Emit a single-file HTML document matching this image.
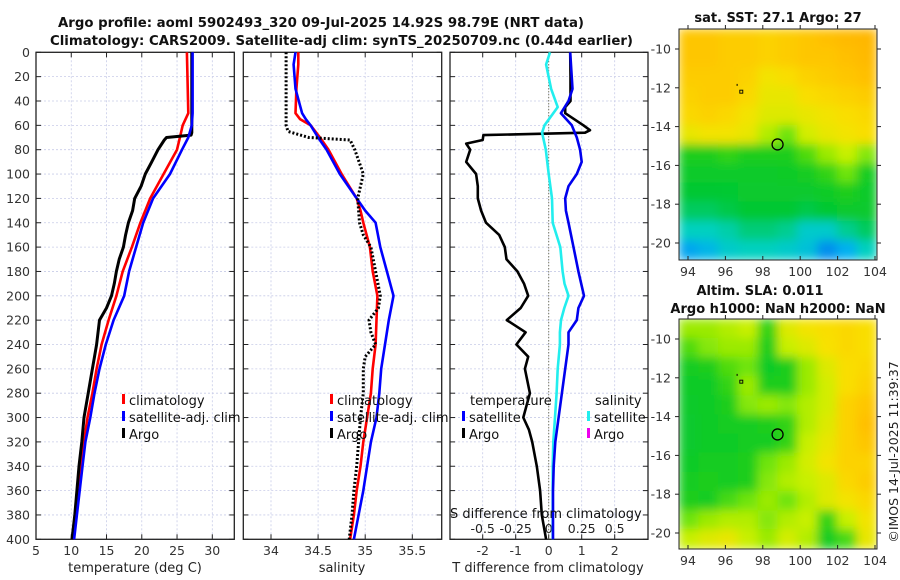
<!DOCTYPE html>
<html><head><meta charset="utf-8">
<style>
html,body{margin:0;padding:0;background:#fff;}
svg{display:block;font-family:"DejaVu Sans","Liberation Sans",sans-serif;}
</style></head>
<body>
<svg id="fig" width="900" height="580" xmlns="http://www.w3.org/2000/svg">
<defs>
<filter id="blur" x="-5%" y="-5%" width="110%" height="110%"><feGaussianBlur stdDeviation="5"/></filter>
<clipPath id="clipTop"><rect x="679" y="29" width="198" height="231"/></clipPath>
<clipPath id="clipBot"><rect x="679" y="319" width="198" height="230"/></clipPath>
</defs>
<g id="root"></g>
</svg>
<script>
// ---- data ----
const depthsT = [0,50,60,70,80,100,120,140,160,180,200,220,240,260,280,300,320,340,360,380,400];
const climT   = [26.4,26.6,25.8,25.4,25.0,23.1,21.2,19.8,18.6,17.3,16.4,15.3,14.3,13.6,13.0,12.3,11.8,11.4,11.0,10.6,10.3];
const satT    = [27.2,27.2,27.1,26.6,25.7,24.0,21.6,20.2,19.2,18.2,17.5,16.0,14.9,14.0,13.3,12.7,12.0,11.6,11.2,10.8,10.4];
const argoDepthT = [0,40,66,68,70,72,80,90,100,110,120,130,140,150,160,170,180,190,200,210,220,240,250,260,280,290,300,320,340,360,380,400];
const argoT      = [27.1,27.1,27.1,27.0,23.5,23.2,22.3,21.4,20.5,19.9,19.0,18.7,18.1,17.7,17.4,16.8,16.4,16.1,15.7,15.0,14.0,13.6,13.3,13.0,12.4,12.1,11.8,11.5,11.1,10.8,10.5,10.1];

const depthsS = [0,10,30,50,55,60,70,80,100,120,130,140,160,180,200,220,240,260,280,300,320,340,360,380,400];
const climS   = [34.29,34.29,34.27,34.26,34.31,34.42,34.52,34.61,34.75,34.91,34.95,34.98,35.05,35.08,35.13,35.12,35.11,35.08,35.06,35.02,34.98,34.95,34.91,34.88,34.84];
const satS    = [34.26,34.24,34.26,34.33,34.37,34.42,34.50,34.59,34.73,34.91,35.00,35.11,35.16,35.23,35.30,35.25,35.21,35.17,35.15,35.12,35.06,35.02,34.98,34.93,34.88];
const argoDepthS = [0,60,65,70,72,80,100,110,120,140,150,160,180,200,210,220,230,240,250,260,280,300,320,340,360,380,400];
const argoS      = [34.16,34.16,34.18,34.40,34.84,34.89,34.98,34.95,34.92,34.94,34.98,35.06,35.11,35.16,35.14,35.04,35.06,35.11,35.00,34.98,34.98,34.95,34.93,34.91,34.88,34.86,34.83];

const dDepth = [0,20,40,45,50,60,64,66,68,72,75,80,90,100,110,120,130,140,150,160,170,180,190,200,210,220,230,240,250,260,280,300,310,320,340,360,380,400];
const argoDT = [0.65,0.66,0.66,0.5,0.5,1.05,1.25,1.1,-1.98,-2.0,-2.5,-2.38,-2.5,-2.2,-2.15,-2.15,-2.05,-1.9,-1.5,-1.33,-1.28,-0.95,-0.75,-0.62,-0.85,-1.27,-0.7,-0.98,-0.62,-0.72,-0.57,-0.77,-0.6,-0.5,-0.36,-0.26,-0.21,-0.08];
const satDDepth = [0,30,40,50,60,70,80,90,100,110,120,130,140,160,180,200,210,220,230,240,260,280,300,320,340,360,380,400];
const satDT     = [0.65,0.72,0.6,0.37,0.7,0.85,0.95,1.0,0.85,0.6,0.5,0.52,0.6,0.75,0.9,1.07,0.9,0.85,0.6,0.6,0.5,0.4,0.3,0.2,0.15,0.13,0.13,0.13];
const satDSDepth = [0,10,30,45,60,66,80,100,120,140,160,180,190,200,210,220,230,240,260,280,300,320,340,360,400];
const satDS      = [0.01,-0.02,0.018,0.068,-0.032,-0.05,-0.022,0.0,0.025,0.03,0.088,0.105,0.12,0.15,0.118,0.093,0.085,0.085,0.068,0.06,0.048,0.035,0.03,0.03,0.03];

const tTicks = [5,10,15,20,25,30];
const sTicks = [34,34.5,35,35.5];
const dtTicks = [-2,-1,0,1,2];
const dsTickLabels = ['-0.5','-0.25','0','0.25','0.5'];
const dsTicks = [-0.5,-0.25,0,0.25,0.5];
const depthTicks = [0,20,40,60,80,100,120,140,160,180,200,220,240,260,280,300,320,340,360,380,400];
const lonTicks = [94,96,98,100,102,104];
const latTicks = [-10,-12,-14,-16,-18,-20];

const sstGrid = [
[0.84,0.84,0.82,0.82,0.80,0.82,0.84,0.86,0.88,0.89],
[0.84,0.84,0.82,0.82,0.80,0.82,0.84,0.84,0.86,0.88],
[0.82,0.82,0.82,0.80,0.74,0.76,0.80,0.82,0.84,0.86],
[0.80,0.82,0.82,0.78,0.72,0.72,0.76,0.78,0.80,0.82],
[0.78,0.80,0.78,0.74,0.70,0.70,0.72,0.74,0.76,0.78],
[0.72,0.74,0.74,0.72,0.64,0.58,0.68,0.72,0.74,0.76],
[0.50,0.50,0.52,0.50,0.50,0.50,0.55,0.62,0.66,0.60],
[0.45,0.45,0.45,0.45,0.45,0.46,0.48,0.52,0.58,0.48],
[0.42,0.42,0.43,0.44,0.44,0.44,0.44,0.46,0.50,0.45],
[0.38,0.38,0.40,0.42,0.42,0.42,0.40,0.42,0.44,0.44],
[0.30,0.30,0.32,0.36,0.36,0.34,0.28,0.28,0.34,0.38],
[0.18,0.22,0.28,0.30,0.30,0.28,0.25,0.14,0.20,0.30]];
const slaGrid = [
[0.62,0.62,0.64,0.66,0.52,0.70,0.74,0.76,0.78,0.76],
[0.55,0.60,0.62,0.62,0.50,0.66,0.70,0.75,0.78,0.76],
[0.48,0.50,0.55,0.58,0.46,0.50,0.62,0.70,0.76,0.78],
[0.46,0.46,0.52,0.62,0.50,0.50,0.62,0.68,0.76,0.80],
[0.45,0.46,0.50,0.60,0.62,0.60,0.64,0.68,0.80,0.84],
[0.44,0.46,0.48,0.48,0.50,0.52,0.64,0.70,0.80,0.86],
[0.44,0.46,0.46,0.48,0.48,0.52,0.66,0.72,0.80,0.84],
[0.46,0.48,0.48,0.50,0.58,0.62,0.68,0.74,0.80,0.80],
[0.48,0.50,0.48,0.50,0.60,0.64,0.66,0.70,0.78,0.82],
[0.50,0.48,0.54,0.58,0.62,0.58,0.64,0.70,0.74,0.78],
[0.58,0.62,0.64,0.64,0.60,0.64,0.66,0.52,0.66,0.74],
[0.66,0.70,0.72,0.66,0.62,0.68,0.64,0.48,0.54,0.72]];
const argoLon = 98.79, argoLat = -14.92;

// ---- helpers ----
const NS='http://www.w3.org/2000/svg';
const root=document.getElementById('root');
function el(tag,attrs,parent){const e=document.createElementNS(NS,tag);for(const k in attrs)e.setAttribute(k,attrs[k]);(parent||root).appendChild(e);return e;}
function txt(s,attrs,parent){const e=el('text',attrs,parent);e.textContent=s;return e;}
const Y0=52.3, Y1=539.3;
const yD = d => Y0 + d*(Y1-Y0)/400;
function lin(d0,d1,p0,p1){return v=>p0+(v-d0)*(p1-p0)/(d1-d0);}
const xT = lin(5,30,36,212.3);
const xS = lin(34,35.5,271,412.3);
const xDT = lin(0,2,548.7,614.7);
const xDS = v => xDT(v*4);
const panels=[{x0:36,x1:234.3,name:'temperature-panel'},{x0:243.3,x1:441.7,name:'salinity-panel'},{x0:450,x1:648,name:'difference-panel'}];

function pathOf(xs,ds,fx){return xs.map((v,i)=>(i?'L':'M')+fx(v).toFixed(1)+','+yD(ds[i]).toFixed(1)).join('');}

panels.forEach((p,pi)=>{
  const g=el('g',{});
  
  
  const ticks = pi===0?tTicks.map(xT):pi===1?sTicks.map(xS):dtTicks.map(xDT);
  ticks.forEach(x=>{el('line',{x1:x,x2:x,y1:Y0,y2:Y1,stroke:'#c8cce8','stroke-width':0.8,'stroke-dasharray':'2,2'},g);
    el('line',{x1:x,x2:x,y1:Y1,y2:Y1-5,stroke:'#222'},g);el('line',{x1:x,x2:x,y1:Y0,y2:Y0+5,stroke:'#222'},g);});
  depthTicks.forEach(d=>{const y=yD(d);
    el('line',{x1:p.x0,x2:p.x1,y1:y,y2:y,stroke:'#c8cce8','stroke-width':0.8,'stroke-dasharray':'2,2'},g);
    el('line',{x1:p.x0,x2:p.x0+5,y1:y,y2:y,stroke:'#222'},g);el('line',{x1:p.x1-5,x2:p.x1,y1:y,y2:y,stroke:'#222'},g);});
  el('rect',{x:p.x0,y:Y0,width:p.x1-p.x0,height:Y1-Y0,fill:'none',stroke:'#222','stroke-width':1.3},g);
});
depthTicks.forEach(d=>{const t=txt(String(d),{x:30,y:yD(d)+4.5,'text-anchor':'end','font-size':12.5,fill:'#333'});
 
 });
tTicks.forEach(v=>{const t=txt(String(v),{x:xT(v),y:555,'text-anchor':'middle','font-size':12.5,fill:'#333'});
 
 });
sTicks.forEach(v=>{const t=txt(String(v),{x:xS(v),y:555,'text-anchor':'middle','font-size':12.5,fill:'#333'});
 
 });
dtTicks.forEach(v=>{const t=txt(String(v),{x:xDT(v),y:555,'text-anchor':'middle','font-size':12.5,fill:'#333'});
 
 });
dsTicks.forEach((v,i)=>{const t=txt(dsTickLabels[i],{x:xDS(v),y:533,'text-anchor':'middle','font-size':12.5,fill:'#222'});
 
 });

el('line',{x1:xDT(0),x2:xDT(0),y1:Y0,y2:Y1,stroke:'#555533','stroke-width':1,'stroke-dasharray':'1,2'});

function series(d,color,w,name,dash){const p=el('path',{d:d,fill:'none',stroke:color,'stroke-width':w,'stroke-linejoin':'round'});
 if(dash)p.setAttribute('stroke-dasharray',dash);
 
 return p;}
series(pathOf(climT,depthsT,xT),'#ff0000',2.6,'climatology-temperature-line');
series(pathOf(argoT,argoDepthT,xT),'#000',3,'argo-temperature-line');
series(pathOf(satT,depthsT,xT),'#0000ff',2.6,'satellite-temperature-line');
series(pathOf(climS,depthsS,xS),'#ff0000',2.6,'climatology-salinity-line');
series(pathOf(satS,depthsS,xS),'#0000ff',2.6,'satellite-salinity-line');
series(pathOf(argoS,argoDepthS,xS),'#000',3,'argo-salinity-line','2,2');
series(pathOf(argoDT,dDepth,xDT),'#000',2.6,'argo-t-difference-line');
series(pathOf(satDS,satDSDepth,xDS),'#22eeee',2.6,'satellite-s-difference-line');
series(pathOf(satDT,satDDepth,xDT),'#0000ee',2.6,'satellite-t-difference-line');

function legend(x,y,color,label,name){const g=el('g',{});
 
 
 el('rect',{x:x,y:y-11,width:3,height:10,fill:color},g);
 txt(label,{x:x+7,y:y,'font-size':13,fill:'#111'},g);}
legend(122,405,'#ff0000','climatology','legend-climatology-temperature');
legend(122,422,'#0000ff','satellite-adj. clim','legend-satellite-temperature');
legend(122,439,'#000','Argo','legend-argo-temperature');
legend(330,405,'#ff0000','climatology','legend-climatology-salinity');
legend(330,422,'#0000ff','satellite-adj. clim','legend-satellite-salinity');
legend(330,439,'#000','Argo','legend-argo-salinity');
txt('temperature',{x:470,y:405,'font-size':13,fill:'#111'});
legend(462,422,'#0000ff','satellite','legend-satellite-t-diff');
legend(462,439,'#000','Argo','legend-argo-t-diff');
txt('salinity',{x:595,y:405,'font-size':13,fill:'#111'});
legend(587,422,'#22eeee','satellite','legend-satellite-s-diff');
legend(587,439,'#ee00ee','Argo','legend-argo-s-diff');
txt('S difference from climatology',{x:450,y:518,'font-size':13,fill:'#111'});

[['temperature (deg C)',135,'x-axis-title-temperature'],['salinity',342,'x-axis-title-salinity'],['T difference from climatology',548,'x-axis-title-t-difference']].forEach(a=>{
 const t=txt(a[0],{x:a[1],y:572,'text-anchor':'middle','font-size':13,fill:'#222'});
 
 });

const t1=txt('Argo profile: aoml 5902493_320 09-Jul-2025 14.92S 98.79E (NRT data)',{x:58,y:27,'font-size':13,'font-weight':'bold',fill:'#111',textLength:526,lengthAdjust:'spacingAndGlyphs'});


const t2=txt('Climatology: CARS2009. Satellite-adj clim: synTS_20250709.nc (0.44d earlier)',{x:50,y:45,'font-size':13,'font-weight':'bold',fill:'#111',textLength:583,lengthAdjust:'spacingAndGlyphs'});



const cmapStops=[[0,[16,64,230]],[0.2,[0,176,240]],[0.3,[0,208,192]],[0.42,[0,200,50]],[0.5,[30,205,30]],[0.58,[110,228,10]],[0.66,[200,240,0]],[0.75,[248,225,0]],[0.85,[255,195,0]],[1,[255,150,0]]];
function cmap(v){for(let i=1;i<cmapStops.length;i++){if(v<=cmapStops[i][0]){const a=cmapStops[i-1],b=cmapStops[i],f=(v-a[0])/(b[0]-a[0]);
 return 'rgb('+a[1].map((c,k)=>Math.round(c+f*(b[1][k]-c))).join(',')+')';}}return 'rgb(255,150,0)';}
function drawMap(grid,top,clip,name){
 const g=el('g',{});
 
 
 const H=(clip==='clipTop')?231:230;
 const lonX=lin(94,104,688,875), latY=lin(-10,-20,top+20,top+214);
 const cg=el('g',{'clip-path':'url(#'+clip+')'},g);
 const bg=el('g',{filter:'url(#blur)'},cg);
 const rows=grid.length, cols=grid[0].length, cw=198/cols, rh=H/rows;
 grid.forEach((r,i)=>r.forEach((v,j)=>{el('rect',{x:679+j*cw-0.5,y:top+i*rh-0.5,width:cw+1,height:rh+1,fill:cmap(v)},bg);}));
 el('circle',{cx:lonX(argoLon),cy:latY(argoLat),r:5.5,fill:'none',stroke:'#000','stroke-width':1.3},g);
 el('rect',{x:lonX(96.85)-1.5,y:latY(-12.2)-1.5,width:3,height:3,fill:'none',stroke:'#000','stroke-width':0.9},g);
 el('rect',{x:lonX(96.6),y:latY(-11.85)-1,width:1,height:2,fill:'#000'},g);
 el('rect',{x:679,y:top,width:198,height:H,fill:'none',stroke:'#222','stroke-width':1},g);
 lonTicks.forEach(v=>{const x=lonX(v);el('line',{x1:x,x2:x,y1:top+H,y2:top+H-4,stroke:'#222'},g);el('line',{x1:x,x2:x,y1:top,y2:top-4,stroke:'#222'},g);
  txt(String(v),{x:x,y:top+H+16,'text-anchor':'middle','font-size':12.5,fill:'#333'},g);});
 latTicks.forEach(v=>{const y=latY(v);el('line',{x1:679,x2:675,y1:y,y2:y,stroke:'#222'},g);el('line',{x1:877,x2:881,y1:y,y2:y,stroke:'#222'},g);
  txt(String(v),{x:671,y:y+4.5,'text-anchor':'end','font-size':12.5,fill:'#333'},g);});
 return g;}
drawMap(sstGrid,29,'clipTop','sst-map');
drawMap(slaGrid,319,'clipBot','sla-map');
const mt1=txt('sat. SST: 27.1 Argo: 27',{x:778,y:22,'text-anchor':'middle','font-size':13,'font-weight':'bold',fill:'#111'});


const mt2=txt('Altim. SLA: 0.011',{x:760,y:295,'text-anchor':'middle','font-size':13,'font-weight':'bold',fill:'#111'});


const mt3=txt('Argo h1000: NaN h2000: NaN',{x:778,y:313,'text-anchor':'middle','font-size':13,'font-weight':'bold',fill:'#111'});


const cr=txt('©IMOS 14-Jul-2025 11:39:37',{x:0,y:0,'text-anchor':'middle','font-size':12.5,fill:'#222',transform:'translate(898,452) rotate(-90)'});


</script>
</body></html>
